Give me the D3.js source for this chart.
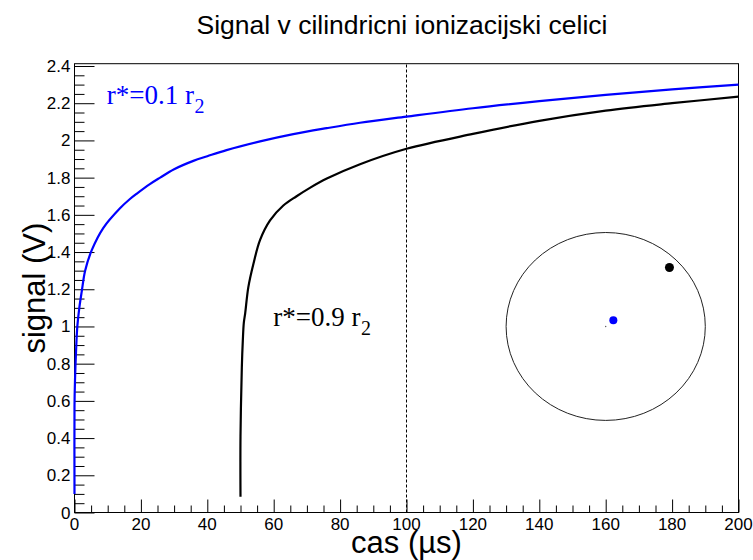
<!DOCTYPE html>
<html>
<head>
<meta charset="utf-8">
<script src="https://cdn.jsdelivr.net/npm/d3@7"></script>
<style>
  body { margin: 0; background: #fff; }
  text { font-family: "Liberation Sans", Arial, sans-serif; fill: #000; }
</style>
</head>
<body>
<script>
// Width and height
var w = 753;
var h = 560;

// plot frame (pixels)
var frameL = 74.5, frameR = 738.5, frameT = 63.7, frameB = 512.5;

// blue curve, r* = 0.1 r2 : time (us) and signal (V)
var blueT = [0, 0, 0.15, 0.45, 0.85, 1.45, 2.2, 3.2, 5.2, 8.7, 13.7, 16.7, 18.7, 22.7, 25.8, 30, 35.8, 40, 45.8, 55.9, 65.9, 76, 86, 100, 120, 140, 160, 180, 200];
var blueV = [0.10, 0.57, 0.71, 0.86, 1.00, 1.10, 1.19, 1.30, 1.41, 1.53, 1.635, 1.685, 1.713, 1.765, 1.80, 1.845, 1.89, 1.915, 1.948, 1.995, 2.034, 2.066, 2.095, 2.128, 2.173, 2.211, 2.245, 2.274, 2.30];

// black curve, r* = 0.9 r2
var blackT = [50, 50, 50.4, 50.7, 51.0, 51.4, 52.35, 53.9, 55.9, 58.9, 62.9, 66.9, 70.9, 76, 86, 100, 120, 140, 160, 180, 200];
var blackV = [0.085, 0.41, 0.78, 0.925, 1.02, 1.069, 1.21, 1.337, 1.465, 1.57, 1.65, 1.70, 1.745, 1.795, 1.872, 1.955, 2.035, 2.105, 2.16, 2.20, 2.235];

// dashed marker line
var markT = 100;

// cell sketch: tube outline (data units) and charge positions
var cell = { cx: 160, cy: 1.0, rx: 30, ry: 0.505 };
var charges = [
  { t: 162.3, v: 1.033, col: "#0000ff", r: 4 },
  { t: 179.2, v: 1.317, col: "#000000", r: 4.5 }
];

// labels
var title = "Signal v cilindricni ionizacijski celici";
var xTitle = "cas (\u00b5s)";
var yTitle = "signal (V)";
var xTicks = [0, 20, 40, 60, 80, 100, 120, 140, 160, 180, 200];
var yTicks = [0, 0.2, 0.4, 0.6, 0.8, 1, 1.2, 1.4, 1.6, 1.8, 2, 2.2, 2.4];

var xScale = d3.scaleLinear().domain([0, 200]).range([frameL, frameR]);
var yScale = d3.scaleLinear().domain([0, 2.4]).range([frameB, 66]);

var svg = d3.select("body")
            .append("svg")
            .attr("width", w)
            .attr("height", h);

// title
svg.append("text")
   .attr("x", 402)
   .attr("y", 34)
   .attr("text-anchor", "middle")
   .style("font-size", "26.5px")
   .text(title);

// frame
svg.append("rect")
   .attr("x", frameL).attr("y", frameT)
   .attr("width", frameR - frameL).attr("height", frameB - frameT)
   .attr("fill", "none").attr("stroke", "#000").attr("stroke-width", 1);

// x axis
var xAxis = d3.axisBottom(xScale)
              .tickValues(d3.range(0, 201, 5))
              .tickSize(0)
              .tickFormat("");
var gx = svg.append("g").attr("transform", "translate(0," + frameB + ")");
gx.call(xAxis);
gx.select(".domain").remove();
gx.selectAll(".tick line")
  .attr("y2", function(d) { return d % 20 === 0 ? -13 : -7; })
  .attr("stroke", "#000");
xTicks.forEach(function(d) {
  gx.append("text")
    .attr("x", xScale(d)).attr("y", 17)
    .attr("text-anchor", "middle")
    .attr("fill", "#000")
    .style("font-size", "17px")
    .text(d3.format("~g")(d));
});

// y axis
var yAxis = d3.axisLeft(yScale)
              .tickValues(d3.range(0, 49).map(function(i) { return i * 0.05; }))
              .tickSize(0)
              .tickFormat("");
var gy = svg.append("g").attr("transform", "translate(" + frameL + ",0)");
gy.call(yAxis);
gy.select(".domain").remove();
gy.selectAll(".tick line")
  .attr("x2", function(d, i) { return i % 4 === 0 ? 20 : 10; })
  .attr("stroke", "#000");
yTicks.forEach(function(d) {
  gy.append("text")
    .attr("x", -4).attr("y", yScale(d) + 6)
    .attr("text-anchor", "end")
    .attr("fill", "#000")
    .style("font-size", "17px")
    .text(d3.format("~g")(d));
});

// axis titles
svg.append("text")
   .attr("x", xScale(100)).attr("y", 553)
   .attr("text-anchor", "middle")
   .style("font-size", "31px")
   .text(xTitle);
svg.append("text")
   .attr("transform", "translate(45," + ((frameT + frameB) / 2) + ") rotate(-90)")
   .attr("text-anchor", "middle")
   .style("font-size", "31px")
   .text(yTitle);

// dashed line
svg.append("line")
   .attr("x1", xScale(markT)).attr("x2", xScale(markT))
   .attr("y1", frameB).attr("y2", frameT)
   .attr("stroke", "#000").attr("stroke-width", 1)
   .attr("stroke-dasharray", "3,2");

// curves
var line = d3.line()
             .curve(d3.curveCatmullRom.alpha(0.5))
             .x(function(d) { return xScale(d[0]); })
             .y(function(d) { return yScale(d[1]); });

svg.append("path")
   .datum(d3.zip(blackT, blackV))
   .attr("d", line)
   .attr("fill", "none").attr("stroke", "#000").attr("stroke-width", 2.2);

svg.append("path")
   .datum(d3.zip(blueT, blueV))
   .attr("d", line)
   .attr("fill", "none").attr("stroke", "#0000ff").attr("stroke-width", 2.2);

// curve labels (TLatex style)
function label(t, v, main, sub, col) {
  var tx = svg.append("text")
     .attr("x", xScale(t)).attr("y", yScale(v))
     .attr("fill", col)
     .style("fill", col)
     .style("font-family", "'Liberation Serif', 'Times New Roman', serif")
     .style("font-size", "27px")
     .text(main);
  tx.append("tspan")
     .attr("dx", 0.5)
     .attr("dy", 9)
     .style("font-size", "20px")
     .text(sub);
}
label(9.7, 2.197, "r*=0.1 r", "2", "#0000ff");
label(59.9, 1.0, "r*=0.9 r", "2", "#000");

// cell sketch
svg.append("ellipse")
   .attr("cx", xScale(cell.cx)).attr("cy", yScale(cell.cy))
   .attr("rx", xScale(cell.cx + cell.rx) - xScale(cell.cx))
   .attr("ry", yScale(cell.cy) - yScale(cell.cy + cell.ry))
   .attr("fill", "none").attr("stroke", "#222").attr("stroke-width", 1);

svg.append("circle")
   .attr("cx", xScale(cell.cx)).attr("cy", yScale(cell.cy))
   .attr("r", 0.7).attr("fill", "#555");

svg.selectAll(".charge")
   .data(charges)
   .enter()
   .append("circle")
   .attr("class", "charge")
   .attr("cx", function(d) { return xScale(d.t); })
   .attr("cy", function(d) { return yScale(d.v); })
   .attr("r", function(d) { return d.r; })
   .attr("fill", function(d) { return d.col; });
</script>
</body>
</html>
